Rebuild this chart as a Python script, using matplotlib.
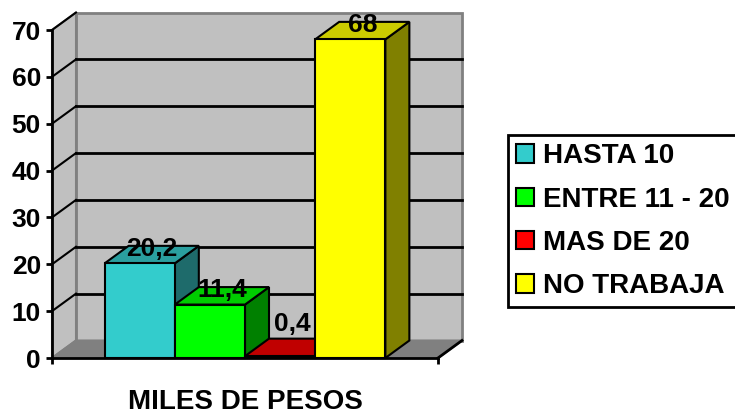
import matplotlib.pyplot as plt
from matplotlib.patches import Polygon, Patch

plt.rcParams['font.family'] = ['Liberation Sans', 'DejaVu Sans']
plt.rcParams['font.weight'] = 'bold'

# Data
series = ["HASTA 10", "ENTRE 11 - 20", "MAS DE 20", "NO TRABAJA"]
values = [20.2, 11.4, 0.4, 68]
category = "MILES DE PESOS"
yticks = [0, 10, 20, 30, 40, 50, 60, 70]

# face colours: front, top, side
front_colors = ["#33CCCC", "#00FF00", "#FF0000", "#FFFF00"]
top_colors = ["#2A9F9F", "#00CC00", "#C00000", "#CCCC00"]
side_colors = ["#1E6B6B", "#008000", "#800000", "#808000"]

W, H = 735, 417
fig = plt.figure(figsize=(W / 100, H / 100), dpi=100)
# front plane of the 3D box in pixels: x 52..438, y 30..358
ax = fig.add_axes([52 / W, (H - 358) / H, 386 / W, 328 / H])
ax.set_xlim(0, 5.5)
ax.set_ylim(0, 70)
ax.patch.set_visible(False)

# depth offset (24 px right, 17.5 px up) in data units
dx = 24 / (386 / 5.5)
dy = 17.5 / (328 / 70)
xmax, ymax = 5.5, 70

# walls and floor
back = Polygon([(dx, dy), (xmax + dx, dy), (xmax + dx, ymax + dy), (dx, ymax + dy)],
               closed=True, fc="#C0C0C0", ec="#808080", lw=2, clip_on=False, zorder=1)
left = Polygon([(0, 0), (dx, dy), (dx, ymax + dy), (0, ymax)],
               closed=True, fc="#C0C0C0", ec="#808080", lw=1.5, clip_on=False, zorder=1)
floor = Polygon([(0, 0), (dx, dy), (xmax + dx, dy), (xmax, 0)],
                closed=True, fc="#808080", ec="#808080", lw=1.5, clip_on=False, zorder=1)
for p in (back, left, floor):
    ax.add_patch(p)
ax.plot([xmax, xmax + dx], [0, dy], color="black", lw=2, clip_on=False, zorder=2)

# gridlines on back and left walls
for t in yticks[1:-1]:
    ax.plot([dx, xmax + dx], [t + dy, t + dy], color="black", lw=2, clip_on=False, zorder=2)
for t in yticks[1:]:
    ax.plot([0, dx], [t, t + dy], color="black", lw=1.5, clip_on=False, zorder=2)

# bars
x0 = 0.75
for i, v in enumerate(values):
    l, r = x0 + i, x0 + i + 1
    fr = Polygon([(l, 0), (r, 0), (r, v), (l, v)], closed=True,
                 fc=front_colors[i], ec="black", lw=1.5, clip_on=False, zorder=3)
    tp = Polygon([(l, v), (r, v), (r + dx, v + dy), (l + dx, v + dy)], closed=True,
                 fc=top_colors[i], ec="black", lw=1.5, clip_on=False, zorder=3)
    sd = Polygon([(r, 0), (r + dx, dy), (r + dx, v + dy), (r, v)], closed=True,
                 fc=side_colors[i], ec="black", lw=1.5, clip_on=False, zorder=3)
    for p in (sd, tp, fr):
        ax.add_patch(p)
    ly = max(v, 4.0)
    ax.text((l + r) / 2 + dx / 2, ly + 0.6, f"{v:g}".replace(".", ","),
            ha="center", va="bottom", fontsize=19, fontweight="bold", zorder=5)

# axes
for s in ("top", "right"):
    ax.spines[s].set_visible(False)
for s in ("left", "bottom"):
    ax.spines[s].set_linewidth(2)
    ax.spines[s].set_zorder(4)
ax.set_yticks(yticks)
ax.set_yticklabels([str(t) for t in yticks], fontsize=19, fontweight="bold")
ax.set_xticks([0, 5.5])
ax.set_xticklabels([])
ax.tick_params(axis="both", direction="out", length=4, width=2, pad=4)
ax.set_xlabel(category, fontsize=20, fontweight="bold", labelpad=14)

handles = [Patch(fc=c, ec="black", lw=1.5) for c in front_colors]
leg = fig.legend(handles, series, loc="upper left", bbox_to_anchor=(508 / W, 1 - 135 / H),
                 prop={"size": 20, "weight": "bold"}, frameon=True, fancybox=False,
                 edgecolor="black", framealpha=1, handlelength=0.65, handleheight=0.65,
                 handletextpad=0.3, labelspacing=0.62, borderpad=0.3, borderaxespad=0)
leg.get_frame().set_linewidth(2)

fig.savefig("out.png", dpi=100)
